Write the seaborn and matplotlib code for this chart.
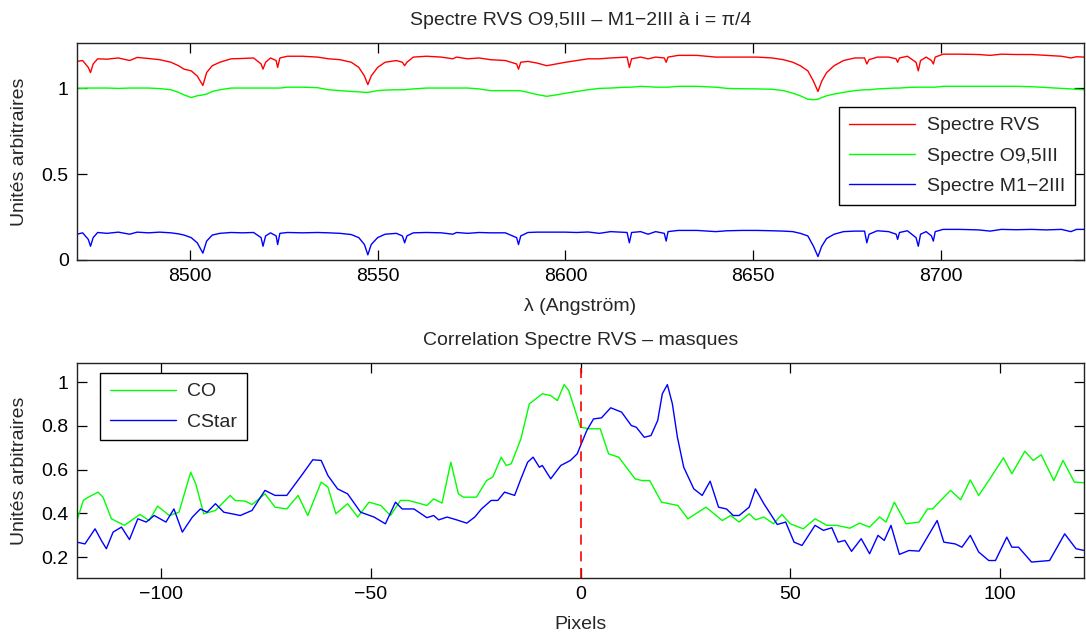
import numpy as np
import pandas as pd
import matplotlib
matplotlib.use("Agg")
import matplotlib.pyplot as plt
import seaborn as sns
from matplotlib.ticker import FuncFormatter

# ---------------- data: top panel (spectra) ----------------
wavelength = [8470, 8471.5, 8473.0, 8473.6, 8474.3, 8475.5, 8478, 8481, 8484, 8486,
              8489, 8492, 8495, 8497, 8498.5, 8500.4, 8502, 8503.5, 8504.5, 8506,
              8508, 8511, 8514, 8517, 8519.0, 8519.5, 8520.2, 8521.5, 8523.0, 8523.4,
              8524.0, 8526, 8530, 8534, 8537, 8540, 8543, 8545, 8546.5, 8547.4,
              8548.3, 8550, 8552, 8555, 8556.6, 8557.2, 8557.8, 8559.5, 8563, 8567,
              8570, 8571, 8574, 8577, 8580, 8584, 8587.0, 8587.5, 8588.1, 8590,
              8592.5, 8595, 8597.5, 8600, 8603, 8606, 8609, 8612, 8616.4, 8617,
              8617.6, 8620, 8622, 8624, 8626.3, 8626.8, 8627.3, 8630, 8635, 8640,
              8643, 8647, 8651, 8655, 8658, 8660.5, 8662.5, 8664.5, 8666, 8667.2,
              8668.2, 8669.5, 8671.5, 8674, 8677, 8679.6, 8680.2, 8680.8, 8683, 8686,
              8688.0, 8688.4, 8688.9, 8691, 8693.3, 8693.9, 8694.5, 8696, 8697.4, 8697.9,
              8698.4, 8700.5, 8705, 8710, 8713, 8716, 8720, 8724, 8728, 8732,
              8734.5, 8736, 8738]

spec_o95 = [1.0, 0.998, 1.0, 1.0, 1.0, 1.0, 1.0, 0.998, 1.0, 1.0,
            1.0, 0.997, 0.99, 0.975, 0.96, 0.945, 0.955, 0.96, 0.965, 0.98,
            0.99, 1.0, 1.0, 1.0, 1.0, 1.0, 1.0, 1.0, 1.0, 1.0,
            1.0, 1.005, 1.005, 1.002, 0.99, 0.985, 0.98, 0.978, 0.975, 0.975,
            0.978, 0.985, 0.988, 0.99, 0.99, 0.99, 0.992, 0.995, 1.0, 1.0,
            1.0, 1.0, 1.0, 0.995, 0.985, 0.985, 0.985, 0.985, 0.984, 0.975,
            0.962, 0.952, 0.96, 0.97, 0.98, 0.99, 0.998, 1.0, 1.005, 1.005,
            1.005, 1.01, 1.008, 1.005, 1.005, 1.005, 1.005, 1.01, 1.01, 1.005,
            0.998, 0.996, 0.995, 0.993, 0.985, 0.97, 0.955, 0.935, 0.932, 0.935,
            0.945, 0.955, 0.965, 0.975, 0.985, 0.99, 0.99, 0.99, 0.995, 0.998,
            1.0, 1.0, 1.0, 1.003, 1.005, 1.005, 1.005, 1.005, 1.005, 1.005,
            1.005, 1.01, 1.01, 1.01, 1.01, 1.01, 1.01, 1.008, 1.003, 0.998,
            0.995, 0.993, 0.99]

spec_m12 = [0.150, 0.158, 0.12, 0.08, 0.13, 0.160, 0.155, 0.162, 0.150, 0.162,
            0.158, 0.162, 0.158, 0.152, 0.145, 0.13, 0.10, 0.04, 0.11, 0.145,
            0.155, 0.160, 0.158, 0.160, 0.13, 0.08, 0.14, 0.158, 0.14, 0.09,
            0.155, 0.160, 0.158, 0.160, 0.158, 0.155, 0.148, 0.13, 0.09, 0.03,
            0.09, 0.13, 0.15, 0.155, 0.14, 0.10, 0.14, 0.158, 0.160, 0.158,
            0.150, 0.160, 0.155, 0.160, 0.158, 0.158, 0.13, 0.09, 0.14, 0.160,
            0.162, 0.162, 0.162, 0.162, 0.160, 0.163, 0.155, 0.165, 0.16, 0.10,
            0.16, 0.165, 0.150, 0.165, 0.155, 0.11, 0.165, 0.172, 0.172, 0.165,
            0.170, 0.172, 0.172, 0.170, 0.168, 0.165, 0.155, 0.14, 0.08, 0.02,
            0.08, 0.125, 0.15, 0.165, 0.168, 0.168, 0.10, 0.150, 0.170, 0.165,
            0.150, 0.12, 0.160, 0.170, 0.130, 0.080, 0.150, 0.165, 0.140, 0.110,
            0.165, 0.178, 0.178, 0.175, 0.168, 0.178, 0.176, 0.178, 0.175, 0.178,
            0.165, 0.178, 0.178]

spec_rvs = [1.155, 1.160, 1.12, 1.09, 1.14, 1.170, 1.168, 1.175, 1.160, 1.178,
            1.172, 1.165, 1.15, 1.13, 1.11, 1.10, 1.07, 1.015, 1.09, 1.13,
            1.15, 1.17, 1.172, 1.175, 1.14, 1.11, 1.15, 1.175, 1.16, 1.12,
            1.175, 1.185, 1.185, 1.18, 1.17, 1.165, 1.15, 1.12, 1.07, 1.02,
            1.07, 1.12, 1.15, 1.16, 1.15, 1.13, 1.15, 1.18, 1.185, 1.18,
            1.17, 1.18, 1.17, 1.175, 1.165, 1.16, 1.14, 1.11, 1.15, 1.155,
            1.145, 1.13, 1.14, 1.15, 1.16, 1.17, 1.17, 1.175, 1.18, 1.12,
            1.17, 1.18, 1.17, 1.18, 1.175, 1.15, 1.18, 1.19, 1.19, 1.18,
            1.18, 1.18, 1.18, 1.175, 1.165, 1.15, 1.13, 1.10, 1.04, 0.98,
            1.04, 1.09, 1.13, 1.16, 1.175, 1.175, 1.14, 1.165, 1.18, 1.18,
            1.17, 1.15, 1.175, 1.185, 1.15, 1.10, 1.16, 1.18, 1.16, 1.14,
            1.18, 1.197, 1.197, 1.195, 1.19, 1.197, 1.195, 1.195, 1.19, 1.185,
            1.175, 1.182, 1.18]

# ---------------- data: bottom panel (correlation) ----------------
co_px = [-120, -118.5, -117.3, -115, -113.8, -111.8, -108.7, -105, -102.8, -100.8,
         -98, -95.7, -92.9, -91.7, -89.8, -87, -83.5, -82.3, -79.9, -78.3,
         -75.2, -72.8, -70, -67.3, -65, -61.8, -60.2, -58.3, -55.5, -53.1,
         -50.4, -47.6, -45.3, -42.9, -41, -36.6, -35, -33, -30.9, -29.1,
         -27.9, -24.8, -22.4, -20.9, -18.9, -17.7, -16.5, -14.2, -12.2, -9.1,
         -7.1, -5.5, -3.9, -2.8, 0, 2, 4.7, 6.7, 9.1, 10.6,
         13, 14.6, 16.5, 19.3, 23.2, 25.6, 29.9, 33.8, 35.8, 37.8,
         40.2, 41.7, 43.7, 46, 48, 50, 53.1, 55.9, 58.7, 61,
         64.2, 66.5, 68.9, 71.3, 72.8, 74.8, 77.6, 80.7, 82.7, 83.9,
         86.2, 88.2, 90.6, 92.9, 94.9, 97.3, 100.8, 102.8, 105.9, 107.9,
         109.8, 112.8, 115, 117.7, 120]
co_val = [0.367, 0.459, 0.474, 0.497, 0.474, 0.375, 0.345, 0.395, 0.367, 0.433,
          0.39, 0.405, 0.588, 0.535, 0.398, 0.413, 0.482, 0.459, 0.456, 0.44,
          0.489, 0.428, 0.42, 0.482, 0.39, 0.543, 0.52, 0.398, 0.444, 0.383,
          0.451, 0.436, 0.39, 0.459, 0.459, 0.436, 0.466, 0.447, 0.634, 0.489,
          0.474, 0.474, 0.55, 0.566, 0.657, 0.619, 0.627, 0.741, 0.901, 0.947,
          0.939, 0.916, 0.989, 0.962, 0.794, 0.787, 0.787, 0.672, 0.657, 0.619,
          0.558, 0.55, 0.55, 0.451, 0.436, 0.375, 0.428, 0.367, 0.39, 0.36,
          0.398, 0.37, 0.383, 0.352, 0.395, 0.352, 0.329, 0.375, 0.345, 0.345,
          0.332, 0.355, 0.337, 0.383, 0.36, 0.451, 0.352, 0.36, 0.42, 0.42,
          0.466, 0.505, 0.462, 0.553, 0.482, 0.55, 0.654, 0.581, 0.684, 0.642,
          0.668, 0.55, 0.642, 0.543, 0.54]

cstar_px = [-120, -118.1, -115.7, -114.2, -113, -111.4, -109.4, -107.5, -105.5, -103.5,
            -101.6, -98.8, -96.9, -94.9, -92.5, -90.6, -89, -87, -85, -83.1,
            -81.1, -78.3, -75.2, -72.8, -70, -66.5, -63.8, -61.8, -60.2, -57.9,
            -55.5, -52.4, -49.2, -46.5, -44.1, -42.5, -39.7, -36.6, -35, -33.8,
            -31.8, -29.5, -27.1, -25.2, -23.6, -21.3, -19.7, -18.1, -15.7, -14.2,
            -12.6, -11.3, -9.8, -9.1, -7.1, -4.7, -2.4, -0.8, 1.5, 3.1,
            5, 7.2, 9.8, 12.1, 13.3, 15.2, 16.8, 18.4, 19.5, 20.7,
            21.9, 23.1, 24.6, 27, 29, 30.9, 32.9, 34.8, 36.4, 37.8,
            40.2, 41.7, 43.7, 46.9, 48.9, 50.9, 52.8, 55.9, 57.9, 59.9,
            61.4, 63, 64.6, 66.9, 68.9, 70.9, 72.4, 74, 76, 78.3,
            80.7, 85, 86.6, 89.3, 90.9, 92.9, 94.9, 97.3, 98.9, 101.6,
            102.8, 104.4, 107.5, 111.8, 115.4, 118.1, 120]
cstar_val = [0.268, 0.26, 0.329, 0.276, 0.238, 0.314, 0.337, 0.28, 0.375, 0.36,
             0.39, 0.36, 0.42, 0.314, 0.383, 0.42, 0.405, 0.444, 0.405, 0.398,
             0.39, 0.413, 0.505, 0.482, 0.482, 0.573, 0.645, 0.642, 0.573, 0.512,
             0.489, 0.405, 0.383, 0.352, 0.451, 0.42, 0.42, 0.38, 0.39, 0.37,
             0.383, 0.37, 0.355, 0.383, 0.42, 0.459, 0.459, 0.497, 0.482, 0.558,
             0.634, 0.657, 0.611, 0.619, 0.558, 0.619, 0.642, 0.672, 0.779, 0.832,
             0.837, 0.883, 0.863, 0.802, 0.794, 0.748, 0.756, 0.825, 0.947, 0.989,
             0.901, 0.748, 0.611, 0.512, 0.482, 0.547, 0.428, 0.42, 0.39, 0.39,
             0.428, 0.512, 0.444, 0.349, 0.36, 0.268, 0.253, 0.345, 0.322, 0.334,
             0.268, 0.276, 0.226, 0.284, 0.215, 0.299, 0.276, 0.345, 0.212, 0.23,
             0.227, 0.367, 0.268, 0.26, 0.245, 0.299, 0.223, 0.184, 0.184, 0.291,
             0.245, 0.245, 0.177, 0.184, 0.306, 0.238, 0.23]

top_xticks = [8500, 8550, 8600, 8650, 8700]
top_yticks = [0, 0.5, 1]
bot_xticks = [-100, -50, 0, 50, 100]
bot_yticks = [0.2, 0.4, 0.6, 0.8, 1.0]

# ---------------- style ----------------
sns.set_style("ticks")
plt.rcParams['font.family'] = ['Liberation Sans', 'DejaVu Sans']
plt.rcParams['axes.unicode_minus'] = True
FS = 14

fig = plt.figure(figsize=(10.86, 6.34), dpi=100)
ax1 = fig.add_axes([77/1086, 1 - 260/634, 1007/1086, 217/634])
ax2 = fig.add_axes([77/1086, 1 - 578/634, 1007/1086, 215/634])

top_df = pd.DataFrame({"lam": wavelength, "rvs": spec_rvs, "o95": spec_o95, "m12": spec_m12})
sns.lineplot(data=top_df, x="lam", y="rvs", ax=ax1, color="#ff0000", lw=1.0,
             estimator=None, sort=False, label="Spectre RVS")
sns.lineplot(data=top_df, x="lam", y="o95", ax=ax1, color="#00ff00", lw=1.0,
             estimator=None, sort=False, label="Spectre O9,5III")
sns.lineplot(data=top_df, x="lam", y="m12", ax=ax1, color="#0000ff", lw=1.0,
             estimator=None, sort=False, label="Spectre M1\u22122III")

co_df = pd.DataFrame({"px": co_px, "val": co_val})
cs_df = pd.DataFrame({"px": cstar_px, "val": cstar_val})
sns.lineplot(data=co_df, x="px", y="val", ax=ax2, color="#00ff00", lw=1.0,
             estimator=None, sort=False, label="CO")
sns.lineplot(data=cs_df, x="px", y="val", ax=ax2, color="#0000ff", lw=1.0,
             estimator=None, sort=False, label="CStar")
ax2.axvline(0, color="#ff0000", lw=1.2, linestyle=(0, (6, 4)))

fmt = FuncFormatter(lambda v, p: ("%g" % v).replace("-", "\u2212"))

for ax in (ax1, ax2):
    ax.tick_params(direction="in", length=7, width=0.9, top=True, right=True,
                   labelsize=FS, pad=6, colors="black")
    for s in ax.spines.values():
        s.set_visible(True)
        s.set_linewidth(1.0)
        s.set_color("#222222")
    ax.xaxis.set_major_formatter(fmt)
    ax.yaxis.set_major_formatter(fmt)

ax1.set_xlim(8470, 8738)
ax1.set_ylim(0, 1.262)
ax1.set_xticks(top_xticks)
ax1.set_yticks(top_yticks)
ax1.set_xlabel("\u03bb (Angstr\u00f6m)", fontsize=FS)
ax1.set_ylabel("Unit\u00e9s arbitraires", fontsize=FS)
ax1.set_title("Spectre RVS O9,5III \u2013 M1\u22122III \u00e0 i = \u03c0/4", fontsize=FS, pad=13)
ax1.xaxis.set_label_coords(0.5, -0.175)
ax1.yaxis.set_label_coords(-0.049, 0.5)

ax2.set_xlim(-120, 120)
ax2.set_ylim(0.104, 1.088)
ax2.set_xticks(bot_xticks)
ax2.set_yticks(bot_yticks)
ax2.set_xlabel("Pixels", fontsize=FS)
ax2.set_ylabel("Unit\u00e9s arbitraires", fontsize=FS)
ax2.set_title("Correlation Spectre RVS \u2013 masques", fontsize=FS, pad=13)
ax2.xaxis.set_label_coords(0.5, -0.175)
ax2.yaxis.set_label_coords(-0.049, 0.5)

leg1 = ax1.legend(loc="upper right", bbox_to_anchor=(0.991, 0.705), fontsize=FS,
                  handlelength=3.4, handletextpad=0.6, labelspacing=0.65,
                  fancybox=False, framealpha=1, edgecolor="black", borderpad=0.5,
                  borderaxespad=0)
leg1.get_frame().set_linewidth(1.0)
leg2 = ax2.legend(loc="upper left", bbox_to_anchor=(0.0228, 0.953), fontsize=FS,
                  handlelength=3.4, handletextpad=0.6, labelspacing=0.65,
                  fancybox=False, framealpha=1, edgecolor="black", borderpad=0.5,
                  borderaxespad=0)
leg2.get_frame().set_linewidth(1.0)

fig.savefig("out.png", dpi=100)
